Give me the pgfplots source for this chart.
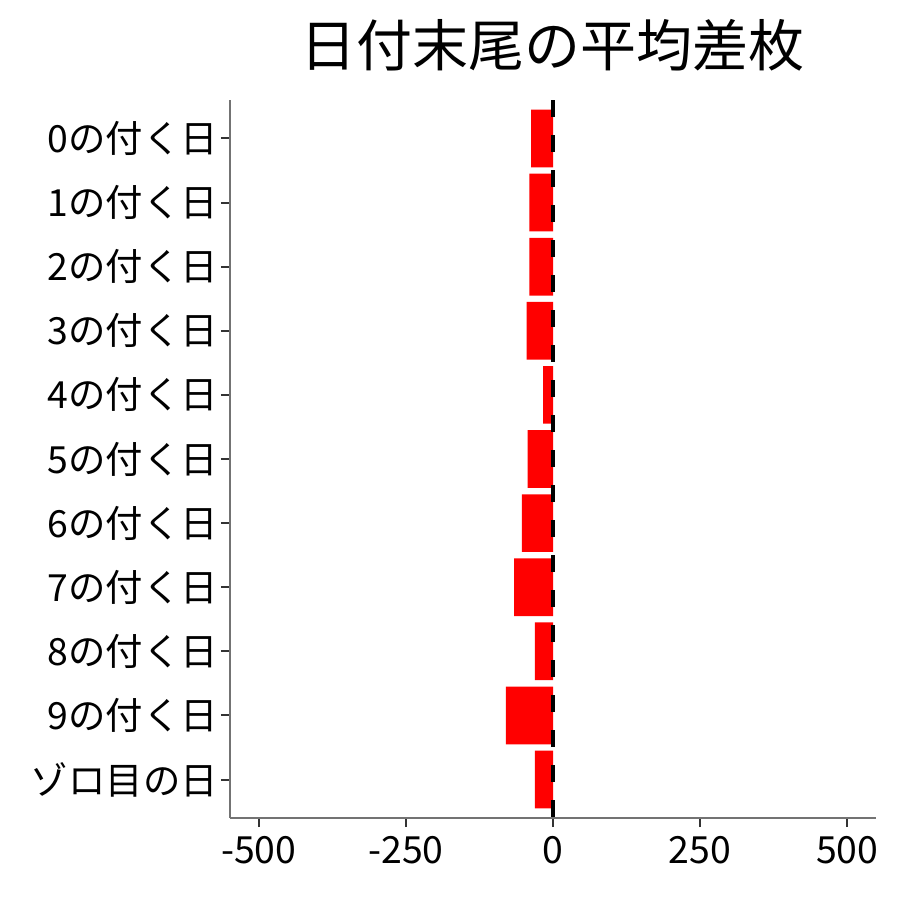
\documentclass[border=0pt]{standalone}
\usepackage{fontspec}
\setmainfont{Noto Sans CJK JP}
\usepackage{pgfplots}
\pgfplotsset{compat=1.18}
\begin{document}
\begin{tikzpicture}
\path[use as bounding box] (-115pt,-41pt) rectangle (335pt,409pt);
\begin{axis}[
    scale only axis,
    width=323pt,
    height=359pt,
    xbar,
    bar width=0.9,
    bar shift=0pt,
    xmin=-549, xmax=549,
    ymin=-0.6, ymax=10.6,
    y dir=reverse,
    axis x line*=bottom,
    axis y line*=left,
    axis line style={draw=black!55, line width=0.7pt},
    xtick={-500,-250,0,250,500},
    xticklabels={-500,-250,0,250,500},
    ytick={0,...,10},
    yticklabels={0の付く日,1の付く日,2の付く日,3の付く日,4の付く日,5の付く日,6の付く日,7の付く日,8の付く日,9の付く日,ゾロ目の日},
    tick align=outside,
    major tick length=4.5pt,
    tick style={draw=black!80, line width=1pt},
    ticklabel style={font=\fontsize{18.7}{21}\selectfont, text=black},
    xticklabel style={yshift=-1pt},
    yticklabel style={xshift=2pt},
    title={日付末尾の平均差枚},
    title style={font=\fontsize{28}{32}\selectfont, yshift=5pt},
    clip=false,
  ]
  \addplot[fill=red, draw=none] coordinates {
    (-37,0) (-40,1) (-40,2) (-45,3) (-17,4) (-43,5)
    (-53,6) (-66,7) (-31,8) (-80,9) (-31,10)
  };
  \draw[black, line width=1.6pt, dash pattern=on 8.5pt off 9pt]
    (axis cs:0,-0.6) -- (axis cs:0,10.6);
\end{axis}
\end{tikzpicture}
\end{document}
